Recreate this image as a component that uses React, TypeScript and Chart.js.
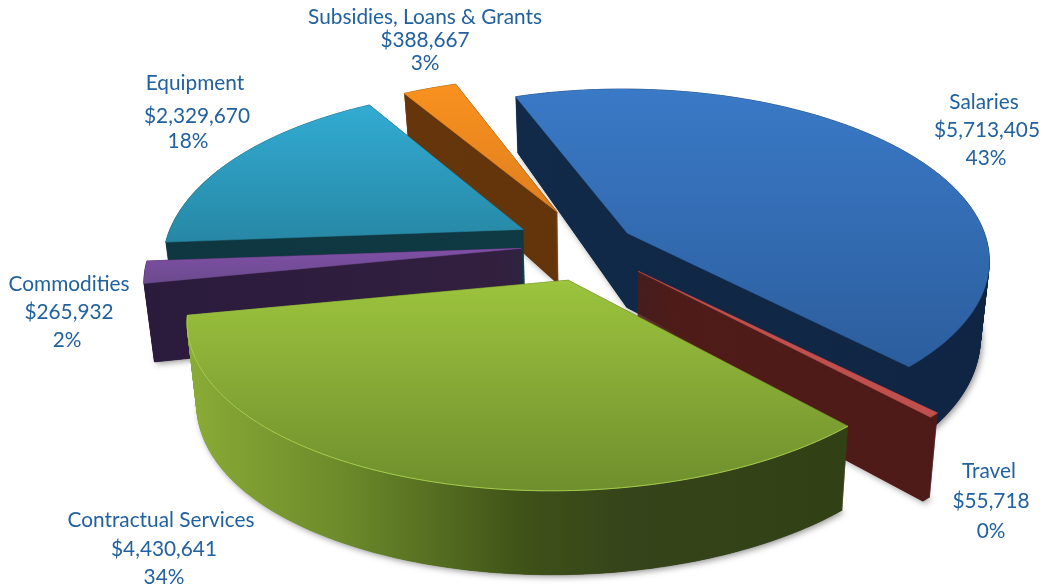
import React, { useEffect, useRef } from "react";
import { Chart, registerables } from "chart.js";

Chart.register(...registerables);

const categories = ["Salaries", "Travel", "Contractual Services", "Commodities", "Equipment", "Subsidies, Loans & Grants"];
const amounts = [5713405, 55718, 4430641, 265932, 2329670, 388667];
const explode = [58, 85, 65, 69, 65, 72];

// drawing configuration (not data)
const PIE_RADIUS = 370;
const TILT = 0.457;
const drawOrder = [5, 4, 3, 0, 1, 2];
type Stop = [number, string];
const sliceViews = [
  { dx: -3, dy: 0, sx: 0.965, sy: 0.98, h: 0.15, kx: 5 },
  { dx: -4, dy: -5, sx: 1, sy: 1, h: 0.197, kx: 0 },
  { dx: 7, dy: 4, sx: 1, sy: 1, h: 0.197, kx: -17 },
  { dx: 8, dy: -3, sx: 1, sy: 1, h: 0.197, kx: 0 },
  { dx: -2, dy: -4, sx: 0.955, sy: 1, h: 0.197, kx: 0 },
  { dx: 5, dy: -6, sx: 0.95, sy: 0.955, h: 0.197, kx: 0 },
];
const topFaces: { y0: number; y1: number; stops: Stop[] }[] = [
  { y0: 92, y1: 365, stops: [[0, "#3A79C6"], [1, "#2C5E9E"]] },
  { y0: 272, y1: 420, stops: [[0, "#C0504D"], [1, "#C0504D"]] },
  { y0: 280, y1: 490, stops: [[0, "#9CC43C"], [0.5, "#86A936"], [1, "#6E8F2C"]] },
  { y0: 249, y1: 285, stops: [[0, "#7F4FA6"], [1, "#6B4A8C"]] },
  { y0: 105, y1: 240, stops: [[0, "#32ABD2"], [1, "#2788A6"]] },
  { y0: 85, y1: 212, stops: [[0, "#F8911F"], [1, "#E07F1E"]] },
];
const sideFaces: Stop[][] = [
  [[0, "#12304F"], [1, "#0F2442"]],
  [[0, "#521C18"], [1, "#4E1A17"]],
  [[0.17, "#8CAE38"], [0.33, "#6C8A2A"], [0.5, "#3F5218"], [0.6, "#35441A"], [1, "#2F3D10"]],
  [[0.13, "#2A1A3C"], [0.5, "#33203F"]],
  [[0, "#0F3640"], [1, "#0E3B46"]],
  [[0, "#6A380D"], [1, "#5E3008"]],
];
const labelColor = "#22619F";
const labelFont = "20.8px Lato";
const labelLines: [number, number][][] = [
  [[984, 109], [987, 137], [986, 165]],
  [[989, 478], [991, 508], [991, 538]],
  [[161, 527], [164, 556], [164, 584]],
  [[69, 291], [69, 319], [67, 347]],
  [[195, 90], [197, 123], [188, 148]],
  [[425, 24], [425, 47], [425, 70]],
];

const project = (X: number, Y: number, R: number, h: number): [number, number] => {
  const w = 1 - (h * Y) / R;
  return [X / w, (Y * TILT) / w];
};
const dropAt = (y: number) => {
  const t = Math.min(1, Math.max(0, (428 - y) / 330));
  return 84 - 28 * t * t;
};
const lower = (p: [number, number], k: number): [number, number] => [
  p[0] + (600 - p[0]) * 0.023 * k,
  p[1] + dropAt(p[1]) * k,
];
const trace = (ctx: CanvasRenderingContext2D, pts: [number, number][]) => {
  ctx.beginPath();
  pts.forEach((p, i) => (i ? ctx.lineTo(p[0], p[1]) : ctx.moveTo(p[0], p[1])));
  ctx.closePath();
};

const pie3d = {
  id: "pie3d",
  beforeDatasetDraw(chart: any) {
    const ctx: CanvasRenderingContext2D = chart.ctx;
    const arcs = chart.getDatasetMeta(0).data;
    ctx.save();
    ctx.lineJoin = "round";
    for (const idx of drawOrder) {
      const arc = arcs[idx];
      const view = sliceViews[idx];
      const R = arc.outerRadius;
      const off = arc.options.offset || 0;
      const mid = (arc.startAngle + arc.endAngle) / 2;
      const c = project(off * Math.cos(mid), off * Math.sin(mid), R, 0.197);
      const apex: [number, number] = [arc.x + c[0] + view.dx, arc.y + c[1] + view.dy];
      const n = Math.ceil(((arc.endAngle - arc.startAngle) * 180) / Math.PI) + 1;
      const rim: [number, number][] = [];
      for (let i = 0; i <= n; i++) {
        const a = arc.startAngle + ((arc.endAngle - arc.startAngle) * i) / n;
        const p = project(R * Math.cos(a), R * Math.sin(a), R, view.h);
        rim.push([apex[0] + p[0] * view.sx + view.kx * Math.sin(a), apex[1] + p[1] * view.sy]);
      }
      const outline = [apex, ...rim];

      const side = ctx.createLinearGradient(0, 0, 1043, 0);
      sideFaces[idx].forEach(([o, col]) => side.addColorStop(o, col));

      ctx.save();
      ctx.shadowColor = "rgba(40,40,40,0.5)";
      ctx.shadowBlur = 6;
      ctx.shadowOffsetX = 2;
      ctx.shadowOffsetY = 2;
      ctx.fillStyle = side;
      trace(ctx, outline.map((p) => lower(p, 1)));
      ctx.fill();
      ctx.restore();

      ctx.fillStyle = side;
      ctx.strokeStyle = side;
      ctx.lineWidth = 0.6;
      for (let j = 90; j >= 0; j--) {
        trace(ctx, outline.map((p) => lower(p, j / 90)));
        ctx.fill();
        ctx.stroke();
      }

      const face = topFaces[idx];
      const grad = ctx.createLinearGradient(0, face.y0, 0, face.y1);
      face.stops.forEach(([o, col]) => grad.addColorStop(o, col));
      ctx.fillStyle = grad;
      ctx.strokeStyle = grad;
      ctx.lineWidth = 0.5;
      trace(ctx, outline);
      ctx.fill();
      ctx.stroke();
      if (idx === 2) {
        ctx.strokeStyle = "#A6CC4E";
        ctx.lineWidth = 1;
        ctx.beginPath();
        rim.forEach((p, i) => (i ? ctx.lineTo(p[0], p[1]) : ctx.moveTo(p[0], p[1])));
        ctx.stroke();
      }
    }
    ctx.restore();
    return false;
  },
  afterDraw(chart: any) {
    const ctx: CanvasRenderingContext2D = chart.ctx;
    const total = amounts.reduce((a, b) => a + b, 0);
    ctx.save();
    ctx.fillStyle = labelColor;
    ctx.font = labelFont;
    ctx.textAlign = "center";
    ctx.textBaseline = "alphabetic";
    categories.forEach((name, i) => {
      const texts = [name, "$" + amounts[i].toLocaleString("en-US"), Math.round((amounts[i] / total) * 100) + "%"];
      texts.forEach((t, j) => ctx.fillText(t, labelLines[i][j][0], labelLines[i][j][1]));
    });
    ctx.restore();
  },
};

export default function App() {
  const ref = useRef<HTMLCanvasElement>(null);
  useEffect(() => {
    document.body.style.margin = "0";
    document.body.style.background = "#ffffff";
    const chart = new Chart(ref.current!, {
      type: "pie",
      data: {
        labels: categories,
        datasets: [{ data: amounts, offset: explode, borderWidth: 0, backgroundColor: topFaces.map((f) => f.stops[0][1]) }],
      },
      options: {
        animation: false,
        responsive: false,
        radius: PIE_RADIUS,
        rotation: -20,
        layout: { padding: { left: 121, bottom: 94 } },
        plugins: { legend: { display: false }, tooltip: { enabled: false } },
      } as any,
      plugins: [pie3d as any],
    });
    return () => chart.destroy();
  }, []);
  return <canvas ref={ref} width={1043} height={588} style={{ display: "block" }} />;
}
